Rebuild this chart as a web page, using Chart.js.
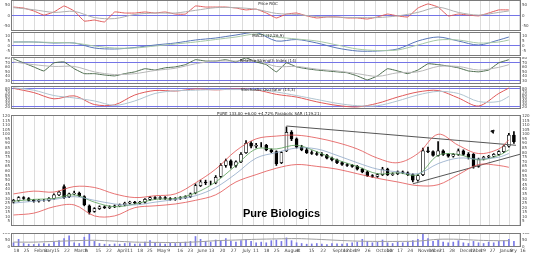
<!DOCTYPE html>
<html>
<head>
<meta charset="utf-8">
<script src="https://cdn.jsdelivr.net/npm/chart.js"></script>
<style>
  body { margin: 0; background: #fff; width: 536px; height: 254px; overflow: hidden; position: relative; }
  canvas { position: absolute; left: 0; }
</style>
</head>
<body>
<canvas id="roc" width="536" height="31" style="top:0px"></canvas>
<canvas id="macd" width="536" height="24" style="top:32px"></canvas>
<canvas id="rsi" width="536" height="27" style="top:57px"></canvas>
<canvas id="stoch" width="536" height="23" style="top:86px"></canvas>
<canvas id="price" width="536" height="121" style="top:110px"></canvas>
<canvas id="vol" width="536" height="21" style="top:233px"></canvas>
<script>
// daily candles (bar index 0..99)
const opens = [26,28,31,30,28,27,28,28,30,34, 43,32,35,36,32,22,16,19,21,20,
  21,22,23,25,26,25,26,29,31,30, 31,30,29,30,31,32,36,44,48,47,
  47,54,66,71,66,70,80,90,87,88, 88,83,81,69,82,102,95,86,83,80,
  79,78,77,74,72,69,67,66,65,62, 59,55,54,56,62,56,57,59,58,56,
  50,56,82,81,77,82,78,76,78,82, 78,78,65,73,75,76,78,81,87,99];
const highs = [29,32,32,31,29,29,29,31,35,38, 45,36,38,37,33,23,20,22,22,22,
  23,24,26,27,27,27,30,32,32,32, 32,31,31,32,33,36,46,50,50,49,
  55,68,73,72,71,80,93,92,90,91, 89,84,82,81,108,104,96,88,85,82,
  81,80,78,75,73,70,68,67,66,63, 60,56,57,64,63,58,60,60,59,57,
  56,85,86,82,92,83,79,79,84,83, 80,79,74,76,77,79,82,88,101,103];
const lows = [25,27,29,27,26,26,27,27,29,33, 30,31,34,32,22,13,15,18,19,19,
  20,21,22,24,24,24,25,28,29,29, 29,28,28,29,30,31,35,43,45,45,
  46,53,64,63,64,69,79,85,85,86, 82,80,66,68,81,93,85,82,79,78,
  77,76,73,71,68,66,65,64,61,58, 54,53,53,55,55,55,56,57,55,48,
  49,55,80,76,76,77,75,75,77,77, 73,63,64,72,74,75,77,80,86,90];
const closes = [28,31,30,28,27,28,28,30,34,37, 31,35,36,33,23,15,19,21,20,21,
  22,23,25,26,25,26,29,31,30,31, 30,29,30,31,32,35,44,48,47,47,
  53,66,71,66,70,78,90,87,88,88, 83,81,68,80,102,95,86,83,80,79,
  78,77,74,72,69,67,66,65,62,59, 55,54,56,62,56,57,59,58,56,50,
  55,82,81,77,82,78,76,78,82,78, 75,65,73,75,76,78,81,87,99,92];
const volume = [30,55,25,20,18,22,25,20,35,45, 60,80,30,25,70,95,40,25,20,18,
  22,20,25,30,20,22,35,45,30,25, 20,28,25,30,35,40,75,55,40,35,
  50,45,60,40,35,45,55,40,30,35, 30,45,50,40,65,45,30,25,20,22,
  25,20,18,25,22,20,25,30,35,55, 40,30,35,50,30,25,35,30,35,45,
  55,90,60,40,50,35,30,35,45,30, 25,40,30,25,35,30,40,45,55,40];

// indicator readings, sampled every 4 bars (smooth) or every 2 bars (jagged)
const smoothIdx = [0,4,8,12,16,20,24,28,32,36,40,44,48,52,56,60,64,68,72,76,80,84,88,92,96,98];
const jaggedIdx = Array.from({ length: 50 }, (_, k) => k * 2);

const bbUpper = [35,38,37,43,42,35,31,33,35,47,62,82,95,98,99,96,91,84,74,69,79,100,88,79,84,94];
const bbLower = [12,14,21,23,11,11,20,22,24,28,34,48,56,63,67,65,62,57,52,48,44,45,56,67,66,64];
const maShort = [27,29,30,34,26,21,24,29,30,36,48,66,84,84,88,81,72,65,57,58,56,77,78,72,77,83];
const maLong = [25,27,29,32,28,24,23,26,29,33,42,57,74,80,85,84,77,69,62,59,57,68,74,73,75,79];
const volAvg = [35,35,40,45,48,42,35,33,32,36,45,50,55,58,60,55,48,42,40,40,42,55,55,48,45,45];

const rocLine = [41,36,22,2,17,46,22,-27,-22,-31, 17,12,12,17,12,17,7,7,46,41,
  41,41,36,27,31,12,-12,7,12,-2, -12,-7,-7,-12,-12,-17,-7,7,-2,-7,
  36,56,41,-2,7,2,-2,12,27,27];
const rocSignal = [38,28,15,20,-10,-15,5,12,12,25,38,38,30,10,5,-5,-8,-10,-10,-2,15,40,15,2,15,22];
const macdLine = [4,4,3,3,-2,-3,-1.5,1,3,6,8,11,13.5,5,6.5,3,-2,-5,-5,-3,5,9,5,1,6,9];
const macdSignal = [4,4,3.5,3,0,-2,-2,0,2,4,6.5,9,12,9,7,5,1,-3,-4.5,-4,1,6,6,3,4,6];
const rsiLine = [79,70,61,52,70,72,57,46,46,43, 41,46,50,57,54,59,61,66,77,74,
  74,77,72,81,72,66,50,70,61,57, 54,52,50,48,41,32,41,57,52,46,
  54,68,66,63,59,52,50,54,70,77];
const rsiSignal = [72,66,62,62,50,44,46,53,58,68,74,74,75,62,62,56,52,46,40,48,50,62,62,54,60,66];
const stochK = [82,68,47,57,28,27,60,75,73,80,77,80,77,62,53,37,25,20,32,53,70,75,50,23,65,83];
const stochD = [84,76,58,50,40,25,40,65,74,76,78,78,78,70,58,45,32,24,24,40,60,72,65,38,38,55];

// trend lines drawn on the price panel (bar index, price)
const trendDownX = [54, 99.4], trendDownY = [109, 88];
const trendUpX = [79, 100.4], trendUpY = [46, 78.5];

// date axis
const tickPos = [0,2,4.1,6.1,8,10,12,14.1,16.2,18.3,20.5,22.5,24.5,26.4,28.4,30.4,32.4,34.4,
  36.4,38.6,40.8,43,45.3,47.4,49.5,51.5,53.6,56,58.4,60.7,63.1,65.2,67.4,69.5,71.7,73.8,75.9,77.9,
  80,82.1,84.2,86.2,88.3,90.3,92.3,94.2,96.2,98.2,100.2];
const tickText = ['18','25','February','8','15','22','March','8','15','22','April','11','18','25',
  'May','9','16','23','June','13','20','27','July','11','18','25','August','8','15','22',
  'September','12','19','26','October','10','17','24','November','14','21','28',
  'December','12','19','27','January','9','16'];

const X_MIN = -0.5, X_MAX = 100.4;
const FONT = 'DejaVu Sans';

const frame = {
  id: 'frame',
  afterDatasetsDraw(chart, args, opts) {
    const { ctx, chartArea: a } = chart;
    ctx.save();
    ctx.strokeStyle = '#7a7a7a';
    ctx.lineWidth = 1;
    ctx.strokeRect(a.left + 0.5, a.top + 0.5, a.width - 1, a.height - 1);
    (opts.texts || []).forEach(t => {
      ctx.font = t.font;
      ctx.fillStyle = t.color || '#222';
      ctx.textAlign = t.align || 'center';
      ctx.textBaseline = 'alphabetic';
      ctx.fillText(t.text, t.x, t.y);
    });
    ctx.restore();
  }
};

function xAxis(showLabels) {
  return {
    type: 'linear', min: X_MIN, max: X_MAX, offset: false,
    afterBuildTicks: s => { s.ticks = tickPos.map(v => ({ value: v })); },
    grid: { color: '#dcdcdc', drawTicks: false, offset: false },
    border: { display: false },
    ticks: showLabels ? {
      display: true, autoSkip: false, maxRotation: 0, minRotation: 0, align: 'start', padding: 1,
      font: { size: 4.5, family: FONT }, color: '#444',
      callback: (v, k) => tickText[k]
    } : { display: false },
    afterFit: s => { s.height = showLabels ? 7 : 0; s.paddingLeft = 0; s.paddingRight = 0; }
  };
}

function yAxes(min, max, ticks, refs, size) {
  const mk = pos => ({
    type: 'linear', position: pos, min, max,
    afterBuildTicks: s => { s.ticks = ticks.map(v => ({ value: v })); },
    grid: {
      display: pos === 'right', drawTicks: false,
      color: c => (c.tick && refs.includes(c.tick.value)) ? '#7474e6' : 'rgba(0,0,0,0)'
    },
    border: { display: false },
    ticks: { autoSkip: false, padding: 1, font: { size: size || 4, family: FONT }, color: '#444' },
    afterFit: s => { s.width = pos === 'left' ? 11 : 15; s.paddingTop = 0; s.paddingBottom = 0; }
  });
  return { y: mk('right'), yl: mk('left') };
}

function line(idx, vals, color, tension, width) {
  return {
    type: 'line', data: idx.map((x, k) => ({ x, y: vals[k] })),
    borderColor: color, borderWidth: width || 1, pointRadius: 0,
    tension: tension === undefined ? 0.3 : tension, order: 0
  };
}

function panel(id, type, datasets, yCfg, texts) {
  return new Chart(document.getElementById(id), {
    type,
    data: { datasets },
    options: {
      responsive: false, animation: false, events: [],
      layout: { padding: 0 },
      plugins: { legend: { display: false }, tooltip: { enabled: false }, frame: { texts } },
      scales: Object.assign({ x: xAxis(id === 'vol') }, yCfg)
    },
    plugins: [frame]
  });
}

const titleFont = '4px "' + FONT + '"';

panel('roc', 'line', [
  line(smoothIdx, rocSignal, '#b0b0b0'),
  line(jaggedIdx, rocLine, '#e05a5a', 0.1)
], yAxes(-75, 75, [50, 0, -50], [0]), [{ text: 'Price ROC', x: 268, y: 5, font: titleFont }]);

panel('macd', 'line', [
  line(smoothIdx, macdSignal, '#a8c8a8'),
  line(smoothIdx, macdLine, '#5a78b8')
], yAxes(-10, 14, [10, 5, 0, -5], [0]), [{ text: 'MACD (12,26,9)', x: 268, y: 5, font: titleFont }]);

panel('rsi', 'line', [
  line(smoothIdx, rsiSignal, '#b8b8b8'),
  line(jaggedIdx, rsiLine, '#4a6a4a', 0.1)
], yAxes(23, 83, [80, 70, 60, 50, 40, 30], [70, 30]), [{ text: 'Relative Strength Index (14)', x: 268, y: 5, font: titleFont }]);

panel('stoch', 'line', [
  line(smoothIdx, stochD, '#b0c4d0'),
  line(smoothIdx, stochK, '#e05a5a')
], yAxes(13, 90, [80, 70, 60, 50, 40, 30, 20], [80, 20]), [{ text: 'Stochastic Oscillator (14,3)', x: 268, y: 5, font: titleFont }]);

const priceTicks = [];
for (let v = 5; v <= 120; v += 5) priceTicks.push(v);

panel('price', 'bar', [
  line(smoothIdx, bbUpper, '#e25050', 0.35, 0.8),
  line(smoothIdx, bbLower, '#e25050', 0.35, 0.8),
  line(smoothIdx, maLong, '#8fa8c8', 0.35, 0.8),
  line(smoothIdx, maShort, '#58a058', 0.35, 0.8),
  { type: 'line', data: trendDownX.map((x, k) => ({ x, y: trendDownY[k] })), borderColor: '#555', borderWidth: 1, pointRadius: 0, order: 0 },
  { type: 'line', data: trendUpX.map((x, k) => ({ x, y: trendUpY[k] })), borderColor: '#555', borderWidth: 1, pointRadius: 0, order: 0 },
  { type: 'scatter', data: [{ x: 94.8, y: 103 }], pointStyle: 'triangle', rotation: 45, pointRadius: 2, backgroundColor: '#111', borderColor: '#111', order: 0 },
  {
    type: 'bar', data: closes.map((c, i) => ({ x: i, y: [opens[i], c] })),
    backgroundColor: closes.map((c, i) => c >= opens[i] ? '#ffffff' : '#000000'),
    borderColor: '#000', borderWidth: 0.7, borderSkipped: false, barThickness: 3, grouped: false, order: 1
  },
  {
    type: 'bar', data: lows.map((l, i) => ({ x: i, y: [l, highs[i]] })),
    backgroundColor: '#000', barThickness: 1, grouped: false, order: 2
  }
], yAxes(0, 121, priceTicks, []), [
  { text: 'PURE 133.00 +6.00 +4.72% Parabolic SAR (119.21)', x: 269, y: 5, font: titleFont },
  { text: 'Pure Biologics', x: 243, y: 107, font: 'bold 11px "Liberation Sans"', color: '#000', align: 'left' }
]);

panel('vol', 'bar', [
  line(smoothIdx, volAvg, '#a0a0a0', 0.3),
  {
    type: 'bar', data: volume.map((v, i) => ({ x: i, y: v })),
    backgroundColor: '#7a7ae6', barThickness: 1, grouped: false, order: 1
  }
], yAxes(0, 100, [0, 50, 100], []), []);
</script>
</body>
</html>
